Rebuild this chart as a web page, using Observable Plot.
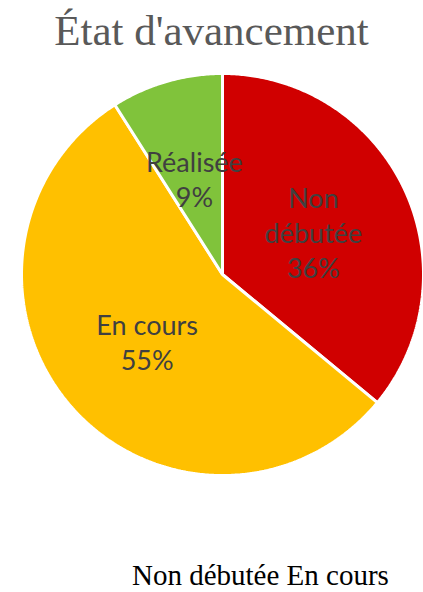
<!DOCTYPE html>
<html>
<head>
<meta charset="utf-8">
<script src="https://cdn.jsdelivr.net/npm/d3@7"></script>
<script src="https://cdn.jsdelivr.net/npm/@observablehq/plot@0.6"></script>
<style>
  html, body { margin: 0; padding: 0; background: #fff; width: 423px; height: 592px; overflow: hidden; }
  #title { height: 62px; line-height: 62px; box-sizing: border-box; text-align: center;
           font-family: "Liberation Serif", serif; font-size: 43px; color: #595959; white-space: nowrap; }
  #chart svg { display: block; }
  #legend { height: 106px; box-sizing: border-box; padding-left: 132px; padding-top: 74px;
            font-family: "Liberation Serif", serif; font-size: 29px; color: #000; white-space: nowrap; overflow: hidden; line-height: 30px; }
</style>
</head>
<body>
<div id="title">État d'avancement</div>
<div id="chart"></div>
<div id="legend"></div>
<script>
const categories = ["Non débutée", "En cours", "Réalisée"];
const values = [36, 55, 9];
const labelNames = ["Non\ndébutée", "En cours", "Réalisée"];
const colors = ["#d00000", "#ffc000", "#80c33b"];
const legendItems = ["Non débutée", "En cours"];

const total = d3.sum(values);
const pts = [];
const labels = [];
let start = 0;
categories.forEach((c, i) => {
  const a0 = start / total * 2 * Math.PI;
  const a1 = (start + values[i]) / total * 2 * Math.PI;
  pts.push({cat: c, x: 0, y: 0});
  const n = Math.max(2, Math.ceil((a1 - a0) / (Math.PI / 360)));
  for (let k = 0; k <= n; k++) {
    const a = a0 + (a1 - a0) * k / n;
    pts.push({cat: c, x: Math.sin(a), y: Math.cos(a)});
  }
  const am = (a0 + a1) / 2;
  labels.push({cat: c, x: 0.5 * Math.sin(am), y: 0.5 * Math.cos(am), text: labelNames[i] + "\n" + values[i] + "%"});
  start += values[i];
});

const chart = Plot.plot({
  width: 423,
  height: 424,
  marginLeft: 21,
  marginRight: 0,
  marginTop: 11,
  marginBottom: 11,
  x: {domain: [-1, 1], axis: null},
  y: {domain: [-1, 1], axis: null},
  color: {domain: categories, range: colors},
  style: {background: "white"},
  marks: [
    Plot.line(pts, {x: "x", y: "y", z: "cat", fill: "cat", stroke: "white", strokeWidth: 3, curve: "linear-closed", strokeLinejoin: "miter"}),
    Plot.text(labels, {x: "x", y: "y", text: "text", fill: "#404040", fontSize: 27, fontFamily: "Lato", lineHeight: 1.3})
  ]
});
document.getElementById("chart").appendChild(chart);
document.getElementById("legend").textContent = legendItems.join(" ");
</script>
</body>
</html>
